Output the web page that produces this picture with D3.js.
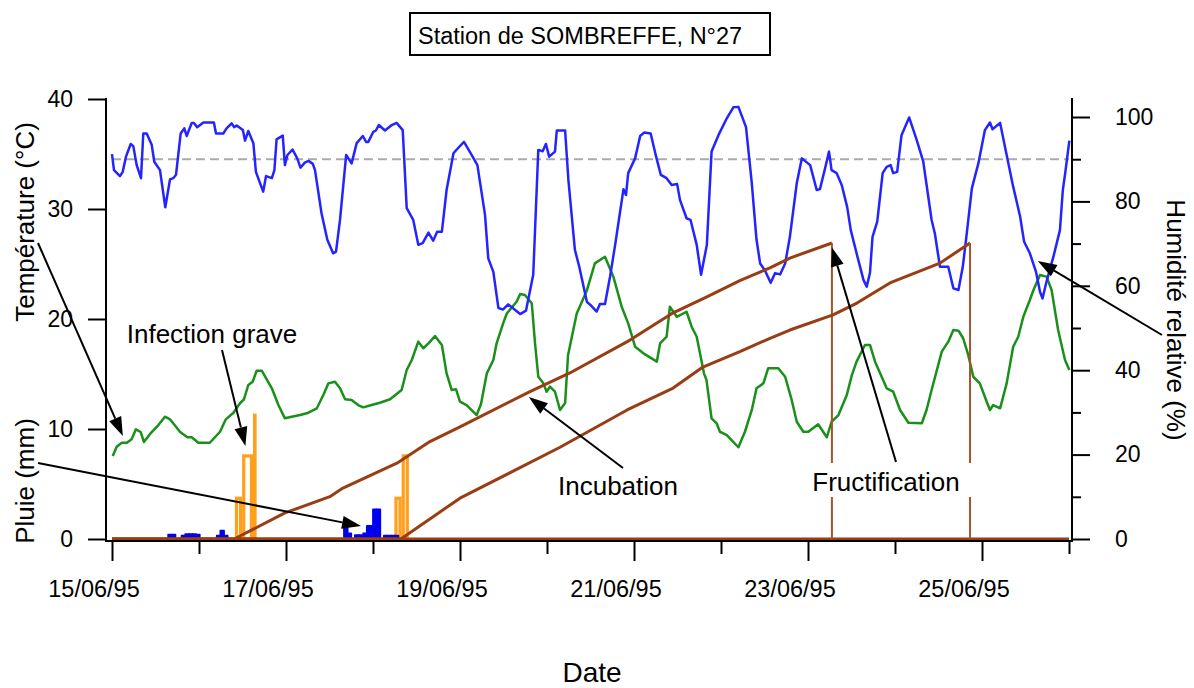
<!DOCTYPE html>
<html><head><meta charset="utf-8">
<script src="https://cdn.jsdelivr.net/npm/d3@7"></script>
<style>
body{margin:0;background:#fff}
svg{display:block}
text{font-family:"Liberation Sans",Arial,sans-serif;fill:#000}
</style>
</head><body>
<svg id="c" width="1194" height="688"></svg>
<script>
// ---------- DATA (time in hours since 15/06/95 00:00) ----------
const dateLabels = ["15/06/95","17/06/95","19/06/95","21/06/95","23/06/95","25/06/95"];
const dayCount = 11;
const humidityThreshold = 90;

const humidity = [[0,91.2],[0.55,87.4],[2.2,86.0],[2.95,87.0],[3.86,90.6],[5.16,93.6],[5.88,93.1],[6.81,88.6],[8.0,85.5],[8.63,96.1],[9.57,96.1],[10.95,93.4],[11.67,89.4],[13.24,87.4],[14.7,78.6],[16.0,85.2],[16.9,85.5],[17.66,86.3],[18.95,96.1],[19.94,97.3],[20.6,95.5],[22.0,98.6],[22.6,98.6],[23.5,97.6],[25.2,98.7],[28.1,98.7],[28.7,96.1],[30.7,96.1],[31.6,97.3],[33.0,98.5],[33.7,97.6],[34.4,98.0],[36.1,96.9],[36.7,94.4],[37.6,96.7],[39.0,93.8],[39.7,87.0],[41.7,82.3],[42.5,86.0],[44.1,85.5],[44.8,87.4],[45.4,94.7],[47.1,95.6],[47.7,88.6],[48.4,91.0],[49.8,92.3],[51.1,90.2],[52.0,88.0],[53.2,89.2],[54.2,89.6],[55.4,88.9],[56.0,87.4],[57.8,77.2],[59.4,70.9],[61.0,67.7],[61.8,68.1],[62.9,75.6],[64.6,91.0],[66.1,89.0],[67.5,93.8],[69.2,95.5],[70.1,94.1],[70.7,94.1],[72.1,96.5],[72.8,96.8],[73.6,98.1],[75.3,96.8],[77.2,98.1],[78.5,98.6],[80.2,96.9],[81.3,78.4],[83.1,75.6],[84.5,69.7],[85.7,70.1],[87.3,72.6],[88.6,70.7],[89.7,72.8],[91.0,72.8],[92.3,82.7],[94.2,91.4],[95.1,92.3],[97.1,94.1],[99.2,91.0],[100.8,88.6],[102.9,76.8],[103.8,66.5],[105.2,63.3],[106.6,54.7],[107.9,54.4],[109.3,55.6],[112.6,53.3],[114.2,54.1],[116.2,62.6],[117.6,92.2],[118.8,91.9],[119.7,93.6],[120.6,90.6],[122.2,91.8],[122.7,96.8],[125.0,96.8],[125.9,85.1],[127.7,68.5],[128.9,64.5],[131.0,56.2],[132.3,55.2],[133.7,53.9],[134.6,55.7],[136.0,55.7],[137.4,62.2],[138.8,69.7],[140.1,77.2],[141.1,82.9],[141.8,81.5],[142.4,86.7],[144.3,90.2],[145.7,95.5],[146.8,96.3],[148.6,96.1],[150.1,90.6],[151.4,86.3],[153.0,85.5],[154.4,83.9],[155.9,84.1],[156.7,80.3],[158.5,76.0],[159.6,75.6],[161.3,69.7],[162.5,62.6],[164.1,69.7],[165.4,91.8],[167.3,95.7],[169.6,99.7],[171.4,102.3],[172.8,102.4],[174.9,97.6],[176.5,84.3],[177.8,70.9],[178.8,65.3],[180.1,63.7],[181.7,60.7],[182.9,63.0],[184.3,62.7],[185.7,65.3],[187.0,71.6],[188.9,84.3],[190.3,90.2],[192.6,88.6],[194.4,82.7],[195.3,82.9],[196.7,87.8],[197.8,91.8],[198.5,87.4],[199.9,86.7],[201.3,83.9],[202.8,78.7],[203.8,73.2],[205.4,67.7],[207.3,61.4],[208.2,59.8],[209.1,63.1],[209.8,71.6],[211.1,75.2],[212.6,86.7],[213.7,88.2],[214.8,88.6],[215.5,86.7],[216.6,87.0],[217.8,95.7],[219.9,99.9],[222.0,94.5],[223.8,89.4],[226.1,75.6],[227.0,72.4],[228.4,64.5],[230.7,64.5],[232.1,59.4],[233.5,59.0],[234.7,64.5],[235.8,72.4],[237.2,83.1],[239.0,89.0],[240.8,96.9],[242.2,98.7],[242.9,97.1],[245.0,98.6],[246.8,91.0],[248.6,83.5],[250.5,76.5],[251.6,70.5],[253.2,67.7],[254.9,63.3],[256.0,58.6],[256.7,57.0],[257.8,61.0],[259.7,66.9],[261.5,73.2],[262.3,82.7],[263.0,87.0],[264.1,94.4]];

const temperature = [[0.2,7.55],[1.3,8.39],[2.7,8.75],[4.1,8.75],[5.4,9.06],[6.6,9.97],[7.9,9.73],[8.8,8.82],[10.5,9.55],[12.8,10.36],[14.6,11.12],[16.0,10.88],[18.8,9.73],[20.8,9.25],[22.0,9.25],[23.8,8.75],[27.0,8.75],[29.8,9.75],[31.4,10.88],[33.5,11.48],[35.3,12.34],[36.4,12.7],[37.6,14.0],[38.8,14.3],[39.9,15.3],[41.3,15.3],[44.1,13.7],[45.9,12.18],[47.7,10.97],[49.6,11.12],[51.9,11.27],[54.2,11.48],[56.5,11.88],[58.3,13.09],[59.7,14.15],[61.5,14.3],[62.9,13.7],[64.3,12.7],[66.1,12.64],[67.9,12.18],[69.3,11.97],[71.6,12.18],[73.9,12.39],[76.7,12.7],[79.9,13.55],[81.3,15.36],[82.7,16.27],[84.5,17.94],[85.9,17.34],[87.3,17.79],[89.1,18.45],[91.0,17.64],[92.3,15.06],[93.7,13.55],[94.9,13.61],[96.0,12.48],[97.8,12.18],[100.6,11.27],[101.8,12.27],[103.4,15.06],[105.2,16.27],[106.1,17.79],[107.9,19.6],[108.9,20.5],[111.6,21.57],[112.6,22.27],[113.9,22.18],[115.8,21.43],[116.7,17.79],[117.6,14.75],[119.0,14.15],[119.9,13.39],[120.8,13.85],[122.2,13.39],[123.6,11.73],[125.0,12.36],[125.8,16.7],[128.2,20.5],[131.0,22.6],[133.2,25.06],[136.0,25.66],[138.3,23.85],[140.6,21.12],[142.4,19.6],[144.3,17.48],[146.6,16.88],[150.3,16.12],[151.2,17.79],[153.0,18.39],[153.9,21.12],[155.8,20.2],[158.5,20.66],[159.9,19.3],[161.3,18.39],[163.3,15.06],[164.0,14.45],[165.4,10.97],[166.8,10.52],[167.7,9.75],[169.6,9.45],[172.8,8.34],[174.6,9.75],[176.5,11.73],[177.8,13.7],[179.7,14.15],[181.0,15.52],[183.8,15.52],[185.7,14.75],[187.5,12.64],[188.9,10.66],[190.7,9.75],[192.1,9.75],[194.8,10.43],[197.2,9.25],[198.5,10.66],[200.4,11.27],[202.7,13.09],[204.1,14.9],[205.4,16.12],[207.7,17.64],[209.1,17.64],[210.5,16.12],[211.9,15.06],[213.7,13.7],[215.5,13.39],[217.4,11.73],[219.7,10.57],[223.4,10.52],[224.7,11.73],[226.1,13.55],[228.9,17.03],[230.7,17.94],[232.1,19.0],[233.5,18.94],[234.8,18.25],[236.2,16.73],[237.6,14.75],[239.4,14.15],[241.3,12.48],[242.2,11.73],[243.1,12.18],[245.0,11.88],[246.8,14.15],[248.6,17.48],[250.0,18.39],[251.4,20.2],[253.2,21.73],[254.2,22.64],[256.0,24.0],[257.8,23.85],[259.2,22.64],[261.0,19.0],[262.9,16.27],[264.1,15.36]];

// rain (mm), hourly bars: start hour and amount
const rainHours = [15.5,16.5,19.2,20.2,21.2,22.2,23.2,28.9,29.9,30.9,64,65,67,68,69.3,70.3,71,72,73,75,76,77,78];
const rainMM    = [0.4,0.4,0.3,0.45,0.45,0.45,0.4,0.3,0.75,0.3,1.0,0.5,0.35,0.35,0.5,1.2,1.2,2.7,2.7,0.3,0.3,0.3,0.3];

// "Infection grave" hourly values
const infHours = [33.9,34.9,35.9,36.9,37.9,38.9,77.9,78.9,79.9,80.9];
const infVals  = [3.85,3.85,7.7,7.7,7.7,11.4,3.85,3.85,7.7,7.7];

// incubation progress (%)
const incubation1 = [[0,0],[33.7,0],[47.7,8.8],[60.1,14.3],[63.7,17.2],[78.6,25.6],[87.7,32.9],[96.0,37.9],[115.3,49.8],[126.3,56.1],[142.9,67.2],[154.8,76.4],[164.1,81.8],[173.2,87.3],[181.5,91.6],[187.0,94.9],[198.6,100]];
const incubation2 = [[0,0],[79.7,0],[96.0,13.8],[123.6,31.0],[142.1,43.6],[154.8,51.0],[163.0,58.1],[173.2,63.3],[181.5,67.8],[187.0,70.6],[198.9,75.7],[205.5,79.7],[214.6,86.5],[228.4,93.2],[236.7,100]];

// ---------- SCALES ----------
const svg = d3.select("#c");
const endH = dayCount*24;
const x  = d3.scaleLinear().domain([0,endH]).range([112,1069]);
const yT = d3.scaleLinear().domain([0,40]).range([539,99]);
const yH = d3.scaleLinear().domain([0,100]).range([539,117]);
const yI = d3.scaleLinear().domain([0,100]).range([539,243]);

// ---------- TITLE ----------
svg.append("rect").attr("x",410).attr("y",13).attr("width",360).attr("height",42)
  .attr("fill","#fff").attr("stroke","#000").attr("stroke-width",2);
svg.append("text").attr("x",418).attr("y",44).attr("text-anchor","start")
  .attr("font-size",23.5).text("Station de SOMBREFFE, N°27");

// ---------- threshold ----------
svg.append("line").attr("x1",x(0)).attr("x2",x(endH)).attr("y1",yH(humidityThreshold)).attr("y2",yH(humidityThreshold))
  .attr("stroke","#aaaaaa").attr("stroke-width",2).attr("stroke-dasharray","9,5");

// ---------- infection bars (merged runs) ----------
const runs = [];
infHours.forEach((h,i)=>{
  const last = runs[runs.length-1];
  if(last && Math.abs(h-last.end)<0.01 && last.v===infVals[i]) last.end = h+1;
  else runs.push({start:h,end:h+1,v:infVals[i]});
});
svg.append("g").selectAll("rect").data(runs).join("rect")
  .attr("x",d=>x(d.start)+1.6).attr("width",d=>x(d.end)-x(d.start)-3.2)
  .attr("y",d=>yT(d.v)+1.6).attr("height",d=>yT(0)-yT(d.v)-1.6)
  .attr("fill","#fff").attr("stroke","#ff9f1c").attr("stroke-width",3.2);

// ---------- rain bars ----------
svg.append("g").selectAll("rect").data(rainHours.map((h,i)=>({h,v:rainMM[i]}))).join("rect")
  .attr("x",d=>x(d.h)).attr("width",d=>x(d.h+1)-x(d.h))
  .attr("y",d=>yT(d.v)).attr("height",d=>yT(0)-yT(d.v))
  .attr("fill","#0000f0").attr("stroke","#0000f0").attr("stroke-width",1.8).attr("stroke-linejoin","round");

// ---------- temperature ----------
svg.append("path").datum(temperature)
  .attr("d",d3.line().x(d=>x(d[0])).y(d=>yT(d[1])))
  .attr("fill","none").attr("stroke","#1a8f1a").attr("stroke-width",2.5).attr("stroke-linejoin","round");

// ---------- humidity ----------
svg.append("path").datum(humidity)
  .attr("d",d3.line().x(d=>x(d[0])).y(d=>yH(d[1])))
  .attr("fill","none").attr("stroke","#2424ff").attr("stroke-width",2.5).attr("stroke-linejoin","round");

// ---------- incubation ----------
const brown = "#983d14";
svg.append("line").attr("x1",x(0)).attr("x2",x(endH)).attr("y1",yI(0)).attr("y2",yI(0))
  .attr("stroke",brown).attr("stroke-width",3);
[incubation1,incubation2].forEach(c=>{
  svg.append("path").datum(c)
    .attr("d",d3.line().x(d=>x(d[0])).y(d=>yI(d[1])))
    .attr("fill","none").attr("stroke",brown).attr("stroke-width",3).attr("stroke-linejoin","round");
  const last = c[c.length-1];
  svg.append("line").attr("x1",x(last[0])).attr("x2",x(last[0])).attr("y1",yI(last[1])).attr("y2",yI(0))
    .attr("stroke","#a5532a").attr("stroke-width",2);
});

// ---------- AXES ----------
const axisW = 2;
svg.append("line").attr("x1",106).attr("x2",106).attr("y1",98).attr("y2",542).attr("stroke","#000").attr("stroke-width",axisW);
svg.append("line").attr("x1",1072).attr("x2",1072).attr("y1",98).attr("y2",542).attr("stroke","#000").attr("stroke-width",axisW);
svg.append("line").attr("x1",105).attr("x2",1073).attr("y1",541).attr("y2",541).attr("stroke","#000").attr("stroke-width",axisW);

function styleAxis(g){
  g.select(".domain").remove();
  g.selectAll(".tick line").attr("stroke","#000").attr("stroke-width",2);
  g.selectAll(".tick text").attr("font-size",23).attr("font-family","Liberation Sans, Arial, sans-serif").attr("fill","#000");
}
svg.append("g").attr("transform","translate(106,0)")
  .call(d3.axisLeft(yT).tickValues([0,10,20,30,40]).tickSize(18).tickPadding(15).tickFormat(d3.format("d")))
  .call(styleAxis);
svg.append("g").attr("transform","translate(1072,0)")
  .call(d3.axisRight(yH).tickValues([0,20,40,60,80,100]).tickSize(18).tickPadding(25).tickFormat(d3.format("d")))
  .call(styleAxis);
svg.append("g").attr("transform","translate(1072,0)")
  .call(d3.axisRight(yH).tickValues([10,30,50,70,90]).tickSize(9).tickFormat(""))
  .call(styleAxis);
// bottom axis
const dayTicks = d3.range(0,dayCount+1);
svg.append("g").attr("transform","translate(0,541)")
  .call(d3.axisBottom(x).tickValues(dayTicks.filter(d=>d%2===0).map(d=>d*24)).tickSize(20).tickFormat(""))
  .call(styleAxis);
svg.append("g").attr("transform","translate(0,541)")
  .call(d3.axisBottom(x).tickValues(dayTicks.filter(d=>d%2===1).map(d=>d*24)).tickSize(13).tickFormat(""))
  .call(styleAxis);
svg.append("g").selectAll("text").data(dateLabels).join("text")
  .attr("x",(d,i)=>x(i*48)-18).attr("y",597).attr("text-anchor","middle").attr("font-size",23.5).text(d=>d);

// ---------- AXIS TITLES ----------
svg.append("text").attr("transform","translate(34,222) rotate(-90)").attr("text-anchor","middle").attr("font-size",26).text("Température (°C)");
svg.append("text").attr("transform","translate(34,481) rotate(-90)").attr("text-anchor","middle").attr("font-size",26).text("Pluie (mm)");
svg.append("text").attr("transform","translate(1167,320) rotate(90)").attr("text-anchor","middle").attr("font-size",26).text("Humidité relative (%)");
svg.append("text").attr("x",592).attr("y",682).attr("text-anchor","middle").attr("font-size",28).text("Date");

// ---------- ANNOTATIONS ----------
function arrow(x1,y1,x2,y2){
  const a = Math.atan2(y2-y1,x2-x1), L=19, W=6.5;
  const bx = x2-L*Math.cos(a), by = y2-L*Math.sin(a);
  svg.append("line").attr("x1",x1).attr("y1",y1).attr("x2",bx).attr("y2",by).attr("stroke","#000").attr("stroke-width",2);
  svg.append("path").attr("d",`M${x2},${y2}L${bx+W*Math.sin(a)},${by-W*Math.cos(a)}L${bx-W*Math.sin(a)},${by+W*Math.cos(a)}Z`).attr("fill","#000");
}
const ann = svg.append("g");
ann.append("rect").attr("x",800).attr("y",463).attr("width",176).attr("height",34).attr("fill","#fff");
ann.append("text").attr("x",886).attr("y",491).attr("text-anchor","middle").attr("font-size",26).text("Fructification");
ann.append("text").attr("x",212).attr("y",343).attr("text-anchor","middle").attr("font-size",26).text("Infection grave");
ann.append("text").attr("x",618).attr("y",495).attr("text-anchor","middle").attr("font-size",26).text("Incubation");

arrow(38,243, x(3.0), yT(9.36));
arrow(38,463, x(68.7), yT(1.18));
arrow(222,350, x(36.8), yT(8.45));
arrow(623,468, x(115.0), yT(12.9));
arrow(896,462, x(198.6), yI(98.5));
arrow(1162,335, x(255.4), yH(65.9));
</script>
</body></html>
